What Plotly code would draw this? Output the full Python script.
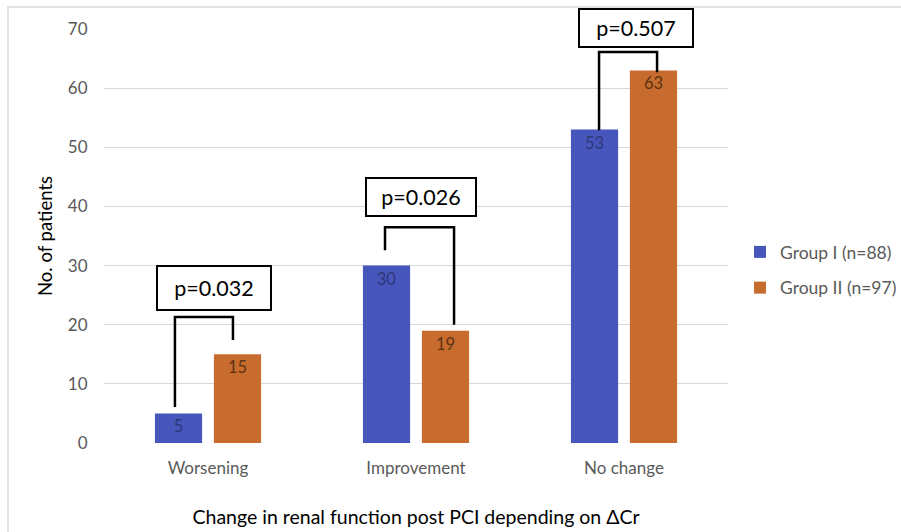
import plotly.graph_objects as go

categories = ["Worsening", "Improvement", "No change"]
group1_name = "Group I (n=88)"
group2_name = "Group II (n=97)"
group1 = [5, 30, 53]
group2 = [15, 19, 63]
p_values = ["p=0.032", "p=0.026", "p=0.507"]
# bracket: [x_left, y_left_end, x_right, y_right_end, y_top]
brackets = [
    [-0.159, 6.1, 0.12, 17.4, 21.3],
    [0.851, 32.6, 1.183, 20.0, 36.5],
    [1.88, 52.9, 2.159, 62.7, 66.1],
]
# p-value box centers (x index, y value), size in px
p_boxes = [
    [0.029, 26.2, 112, 42],
    [1.024, 41.6, 108, 36],
    [2.058, 70.2, 112, 36],
]
Y_MAX = 70

xs = list(range(len(categories)))
BLUE = "#4656BC"
ORANGE = "#C76B2E"
FONT = "Lato, 'Open Sans', sans-serif"

fig = go.Figure()
fig.add_trace(go.Bar(
    x=xs, y=group1, name=group1_name, marker=dict(color=BLUE, line=dict(width=0)),
    text=[str(v) for v in group1], textposition="inside", insidetextanchor="end",
    textfont=dict(color="#2E3775", size=16.5, family=FONT), legendgroup="g1",
))
fig.add_trace(go.Bar(
    x=xs, y=group2, name=group2_name, marker=dict(color=ORANGE, line=dict(width=0)),
    text=[str(v) for v in group2], textposition="inside", insidetextanchor="end",
    textfont=dict(color="#5E3313", size=16.5, family=FONT), legendgroup="g2",
))

shapes = []
for xl, yl, xr, yr, yt in brackets:
    shapes.append(dict(
        type="path", xref="x", yref="y",
        path=f"M {xl},{yl} L {xl},{yt} L {xr},{yt} L {xr},{yr}",
        line=dict(color="black", width=2.5), layer="above",
    ))

# outer light border
L, R, T, B = 104, 173, 29, 89
pw, ph = 901 - L - R, 532 - T - B
shapes.append(dict(
    type="rect", xref="paper", yref="paper",
    x0=(8 - L) / pw, x1=(910 - L) / pw,
    y0=-(540 - (532 - B)) / ph, y1=1 + (T - 7) / ph,
    line=dict(color="#D9D9D9", width=1.5), fillcolor="rgba(0,0,0,0)", layer="below",
))

annotations = []
for (bx, by, bw, bh), txt in zip(p_boxes, p_values):
    annotations.append(dict(
        x=bx, y=by / Y_MAX, xref="x", yref="paper", text=txt, showarrow=False,
        xanchor="center", yanchor="middle",
        font=dict(size=21.5, color="black", family=FONT),
        bordercolor="black", borderwidth=2, borderpad=0,
        bgcolor="white", width=bw, height=bh, align="center", valign="middle",
    ))

fig.update_layout(
    width=901, height=532,
    margin=dict(l=L, r=R, t=T, b=B, autoexpand=False),
    paper_bgcolor="white", plot_bgcolor="white",
    barmode="group", bargap=0.433, bargroupgap=0.2,
    font=dict(family=FONT, color="#595959", size=16),
    shapes=shapes, annotations=annotations,
    legend=dict(
        x=(740 - L) / pw, y=(532 - B - 270) / ph, xanchor="left", yanchor="middle",
        font=dict(size=17.5, color="#595959", family=FONT),
        tracegroupgap=10, bgcolor="rgba(0,0,0,0)", itemwidth=30,
    ),
    showlegend=True,
)
fig.update_xaxes(
    range=[-0.5, 2.5], tickvals=xs, ticktext=categories,
    showgrid=False, zeroline=False, showline=False,
    ticks="outside", ticklen=10, tickcolor="rgba(0,0,0,0)",
    tickfont=dict(size=17, color="#595959", family=FONT),
    title=dict(text="Change in renal function post PCI depending on ΔCr",
               font=dict(size=19.5, color="black", family=FONT), standoff=32),
)
fig.update_yaxes(
    range=[0, Y_MAX], dtick=10, showgrid=True, gridcolor="#D9D9D9", gridwidth=1,
    zeroline=False, showline=False,
    ticks="outside", ticklen=12, tickcolor="rgba(0,0,0,0)",
    tickfont=dict(size=17, color="#595959", family=FONT),
    title=dict(text="No. of patients", font=dict(size=18.5, color="black", family=FONT), standoff=10),
)

fig.write_html("out.html")
